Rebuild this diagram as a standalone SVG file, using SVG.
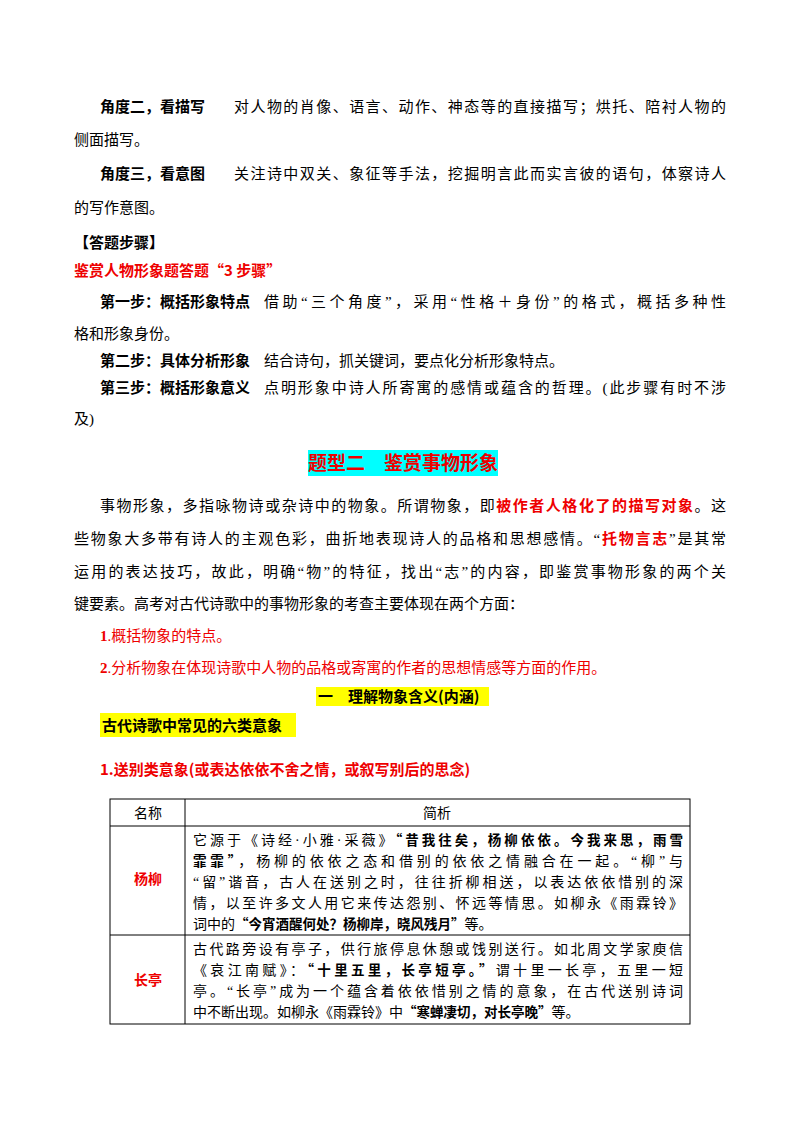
<svg xmlns="http://www.w3.org/2000/svg" width="800" height="1132" viewBox="0 0 800 1132">
<style>
text{font-family:"Liberation Serif","Noto Sans CJK SC",serif;font-size:15px;fill:#000}
.b{font-family:"Noto Sans CJK SC",sans-serif;font-weight:bold}
.r{fill:#e00}
.t{font-size:14px}
.h{font-family:"Noto Sans CJK SC",sans-serif;font-weight:bold;font-size:13.5px}
</style>
<rect width="800" height="1132" fill="#fff"/>
<g id="text-top">
<text x="100" y="112"><tspan class="b">角度二，看描写</tspan></text>
<text x="234" y="112" textLength="492" lengthAdjust="spacing">对人物的肖像、语言、动作、神态等的直接描写；烘托、陪衬人物的</text>
<text x="74" y="145">侧面描写。</text>
<text x="100" y="179"><tspan class="b">角度三，看意图</tspan></text>
<text x="234" y="179" textLength="492" lengthAdjust="spacing">关注诗中双关、象征等手法，挖掘明言此而实言彼的语句，体察诗人</text>
<text x="74" y="213">的写作意图。</text>
<text x="74" y="248" class="b">【答题步骤】</text>
<text x="74" y="276" class="b r">鉴赏人物形象题答题“3 步骤”</text>
<text x="100" y="307" class="b">第一步：概括形象特点</text>
<text x="264" y="307" textLength="462" lengthAdjust="spacing">借助“三个角度”，采用“性格＋身份”的格式，概括多种性</text>
<text x="74" y="339">格和形象身份。</text>
<text x="100" y="366" class="b">第二步：具体分析形象</text>
<text x="264" y="366">结合诗句，抓关键词，要点化分析形象特点。</text>
<text x="100" y="393" class="b">第三步：概括形象意义</text>
<text x="264" y="393" textLength="462" lengthAdjust="spacing">点明形象中诗人所寄寓的感情或蕴含的哲理。(此步骤有时不涉</text>
<text x="74" y="424">及)</text>
</g>
<g id="title">
<rect x="308" y="450" width="190" height="26" fill="#00ffff"/>
<text x="403" y="470" text-anchor="middle" class="b r" style="font-size:19px">题型二　鉴赏事物形象</text>
</g>
<g id="para">
<text x="100" y="511" textLength="626" lengthAdjust="spacing">事物形象，多指咏物诗或杂诗中的物象。所谓物象，即<tspan class="b r">被作者人格化了的描写对象</tspan>。这</text>
<text x="74" y="544" textLength="652" lengthAdjust="spacing">些物象大多带有诗人的主观色彩，曲折地表现诗人的品格和思想感情。“<tspan class="b r">托物言志</tspan>”是其常</text>
<text x="74" y="577" textLength="652" lengthAdjust="spacing">运用的表达技巧，故此，明确“物”的特征，找出“志”的内容，即鉴赏事物形象的两个关</text>
<text x="74" y="609">键要素。高考对古代诗歌中的事物形象的考查主要体现在两个方面：</text>
<text x="100" y="641" class="r"><tspan font-weight="bold">1</tspan>.概括物象的特点。</text>
<text x="100" y="673" class="r"><tspan font-weight="bold">2</tspan>.分析物象在体现诗歌中人物的品格或寄寓的作者的思想情感等方面的作用。</text>
</g>
<g id="sub1">
<rect x="316" y="687" width="173" height="19" fill="#ffff00"/>
<text x="318" y="702" class="b">一　理解物象含义(内涵)</text>
</g>
<g id="sub2">
<rect x="100" y="713" width="196" height="24" fill="#ffff00"/>
<text x="102" y="731" class="b">古代诗歌中常见的六类意象</text>
</g>
<text id="sub3" x="100" y="775" class="b r">1.送别类意象(或表达依依不舍之情，或叙写别后的思念)</text>
<g id="table" fill="none" stroke="#000" stroke-width="1">
<rect x="110" y="799" width="580" height="225"/>
<line x1="110" y1="826" x2="690" y2="826"/>
<line x1="110" y1="935" x2="690" y2="935"/>
<line x1="185" y1="799" x2="185" y2="1024"/>
</g>
<g id="cells">
<text x="148" y="818" text-anchor="middle" class="t" style="font-family:'Noto Sans CJK SC',sans-serif">名称</text>
<text x="437" y="818" text-anchor="middle" class="t" style="font-family:'Noto Sans CJK SC',sans-serif">简析</text>
<text x="148" y="884" text-anchor="middle" class="b r" style="font-size:14px">杨柳</text>
<text x="148" y="985" text-anchor="middle" class="b r" style="font-size:14px">长亭</text>
<text x="193" y="845" class="t" textLength="490" lengthAdjust="spacing">它源于《诗经·小雅·采薇》<tspan class="h">“昔我往矣，杨柳依依。今我来思，雨雪</tspan></text>
<text x="193" y="866" class="t" textLength="490" lengthAdjust="spacing"><tspan class="h">霏霏”</tspan>，杨柳的依依之态和借别的依依之情融合在一起。“柳”与</text>
<text x="193" y="887" class="t" textLength="490" lengthAdjust="spacing">“留”谐音，古人在送别之时，往往折柳相送，以表达依依惜别的深</text>
<text x="193" y="908" class="t" textLength="490" lengthAdjust="spacing">情，以至许多文人用它来传达怨别、怀远等情思。如柳永《雨霖铃》</text>
<text x="193" y="929" class="t">词中的<tspan class="h">“今宵酒醒何处？杨柳岸，晓风残月”</tspan>等。</text>
<text x="193" y="954" class="t" textLength="490" lengthAdjust="spacing">古代路旁设有亭子，供行旅停息休憩或饯别送行。如北周文学家庾信</text>
<text x="193" y="975" class="t" textLength="490" lengthAdjust="spacing">《哀江南赋》：<tspan class="h">“十里五里，长亭短亭。”</tspan>谓十里一长亭，五里一短</text>
<text x="193" y="996" class="t" textLength="490" lengthAdjust="spacing">亭。“长亭”成为一个蕴含着依依惜别之情的意象，在古代送别诗词</text>
<text x="193" y="1017" class="t">中不断出现。如柳永《雨霖铃》中<tspan class="h">“寒蝉凄切，对长亭晚”</tspan>等。</text>
</g>
</svg>
